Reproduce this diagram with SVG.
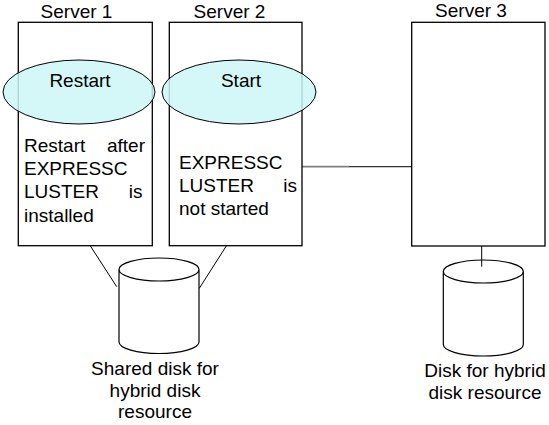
<svg xmlns="http://www.w3.org/2000/svg" width="549" height="425" viewBox="0 0 549 425">
<style>
text{font-family:"Liberation Sans",Arial,sans-serif;font-size:19px;fill:#000}
.box{fill:#fff;stroke:#000;stroke-width:1.3}
.oval{fill:#ccf7f7;fill-opacity:0.85;stroke:#000;stroke-width:1}
.disk{fill:#fff;stroke:#000;stroke-width:1.2}
.ln{stroke:#000;stroke-width:1;fill:none}
.mid{text-anchor:middle}
.end{text-anchor:end}
</style>
<rect width="549" height="425" fill="#fff"/>
<g id="connectors">
<line class="ln" x1="83.3" y1="235" x2="116.7" y2="286.7"/>
<line class="ln" x1="233.3" y1="235" x2="199.3" y2="288.3"/>
<line x1="302" y1="166.7" x2="349" y2="166.7" stroke="#808080" stroke-width="1.8"/>
<line x1="349" y1="166.7" x2="412" y2="166.7" stroke="#333" stroke-width="1.3"/>
<line class="ln" x1="481.7" y1="235" x2="481.7" y2="266.7"/>
</g>
<g id="server1">
<text class="mid" x="76.5" y="18.3">Server 1</text>
<rect class="box" x="18.3" y="22.3" width="134" height="223.4"/>
<text x="24" y="151.7">Restart</text><text class="end" x="145" y="151.7">after</text>
<text x="24" y="175">EXPRESSC</text>
<text x="24" y="198.3">LUSTER</text><text class="end" x="142.5" y="198.3">is</text>
<text x="24" y="221.6">installed</text>
</g>
<g id="restart">
<ellipse class="oval" cx="79" cy="92" rx="76" ry="32"/>
<text class="mid" x="80" y="86.7">Restart</text>
</g>
<g id="server2">
<text class="mid" x="229.5" y="18.3">Server 2</text>
<rect class="box" x="169.3" y="22.3" width="132.7" height="223.4"/>
<text x="179" y="168.5">EXPRESSC</text>
<text x="179" y="191.8">LUSTER</text><text class="end" x="297" y="191.8">is</text>
<text x="179" y="215.1">not started</text>
</g>
<g id="start">
<ellipse class="oval" cx="239" cy="92" rx="77" ry="32"/>
<text class="mid" x="241" y="86.7">Start</text>
</g>
<g id="server3">
<text class="mid" x="471" y="17">Server 3</text>
<rect class="box" x="411.7" y="22.3" width="133.3" height="223.7"/>
</g>
<g id="shared-disk">
<path class="disk" d="M119,269.5 L119,342 A40,11.5 0 0 0 199,342 L199,269.5 A40,11.5 0 0 0 119,269.5 A40,11.5 0 0 0 199,269.5"/>
<text class="mid" x="155" y="375">Shared disk for</text>
<text class="mid" x="155" y="397">hybrid disk</text>
<text class="mid" x="155" y="418">resource</text>
</g>
<g id="hybrid-disk">
<path class="disk" d="M443.3,271.5 L443.3,344.5 A40,11.5 0 0 0 523.3,344.5 L523.3,271.5 A40,11.5 0 0 0 443.3,271.5 A40,11.5 0 0 0 523.3,271.5"/>
<line class="ln" x1="481.7" y1="260" x2="481.7" y2="266.7"/>
<text class="mid" x="485" y="377">Disk for hybrid</text>
<text class="mid" x="485" y="399">disk resource</text>
</g>
</svg>
